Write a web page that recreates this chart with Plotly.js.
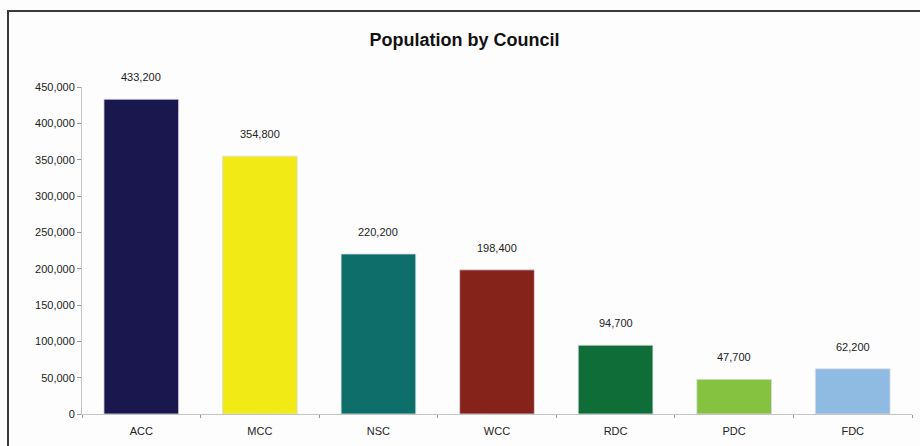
<!DOCTYPE html>
<html>
<head>
<meta charset="utf-8">
<script src="https://cdn.plot.ly/plotly-3.0.1.min.js"></script>
<style>
  html, body { margin: 0; padding: 0; background: #fdfdfd; }
  #wrap { position: relative; width: 920px; height: 446px; overflow: hidden; }
  #chart { width: 920px; height: 446px; }
  #frame { position: absolute; left: 7px; top: 10px; width: 940px; height: 460px;
           border-left: 2px solid #3a3a3a; border-top: 2px solid #3a3a3a; pointer-events: none; }
</style>
</head>
<body>
<div id="wrap">
  <div id="chart"></div>
  <div id="frame"></div>
</div>
<script>
const councils = ["ACC", "MCC", "NSC", "WCC", "RDC", "PDC", "FDC"];
const population = [433200, 354800, 220200, 198400, 94700, 47700, 62200];
const barColors = ["#1a174f", "#f2ea14", "#0e6e6a", "#85231b", "#0f6e37", "#85c23f", "#8fbbe3"];
const yTickVals = [0, 50000, 100000, 150000, 200000, 250000, 300000, 350000, 400000, 450000];

const fmt = v => v.toLocaleString("en-US");

const trace = {
  type: "bar",
  x: councils,
  y: population,
  marker: { color: barColors, line: { color: "rgba(220,220,230,0.8)", width: 1 } },
  hoverinfo: "x+y"
};

const annotations = councils.map((c, i) => ({
  x: c, y: population[i], xref: "x", yref: "y",
  text: fmt(population[i]), showarrow: false,
  yanchor: "bottom", yshift: 14,
  font: { family: "Liberation Sans, Arial, sans-serif", size: 11, color: "#222" }
}));

const layout = {
  width: 920, height: 446,
  margin: { l: 82, r: 8, t: 87, b: 32 },
  paper_bgcolor: "#fdfdfd",
  plot_bgcolor: "#fdfdfd",
  title: {
    text: "<b>Population by Council</b>",
    x: 0.505, xanchor: "center", y: 0.912, yanchor: "middle",
    font: { family: "Liberation Sans, Arial, sans-serif", size: 18, color: "#111" }
  },
  bargap: 0.37,
  showlegend: false,
  xaxis: {
    type: "category",
    showline: true, linecolor: "#c4c4c4", linewidth: 1,
    ticks: "outside", tickson: "boundaries", ticklen: 3, tickcolor: "#999",
    ticklabelstandoff: 7,
    tickfont: { family: "Liberation Sans, Arial, sans-serif", size: 11, color: "#222" },
    showgrid: false, zeroline: false
  },
  yaxis: {
    range: [0, 450000],
    tickvals: yTickVals,
    ticktext: yTickVals.map(fmt),
    showline: true, linecolor: "#c4c4c4", linewidth: 1,
    ticks: "outside", ticklen: 4, tickcolor: "#999",
    tickfont: { family: "Liberation Sans, Arial, sans-serif", size: 11, color: "#222" },
    showgrid: false, zeroline: false
  },
  annotations: annotations
};

Plotly.newPlot("chart", [trace], layout, { displayModeBar: false, staticPlot: true });
</script>
</body>
</html>
